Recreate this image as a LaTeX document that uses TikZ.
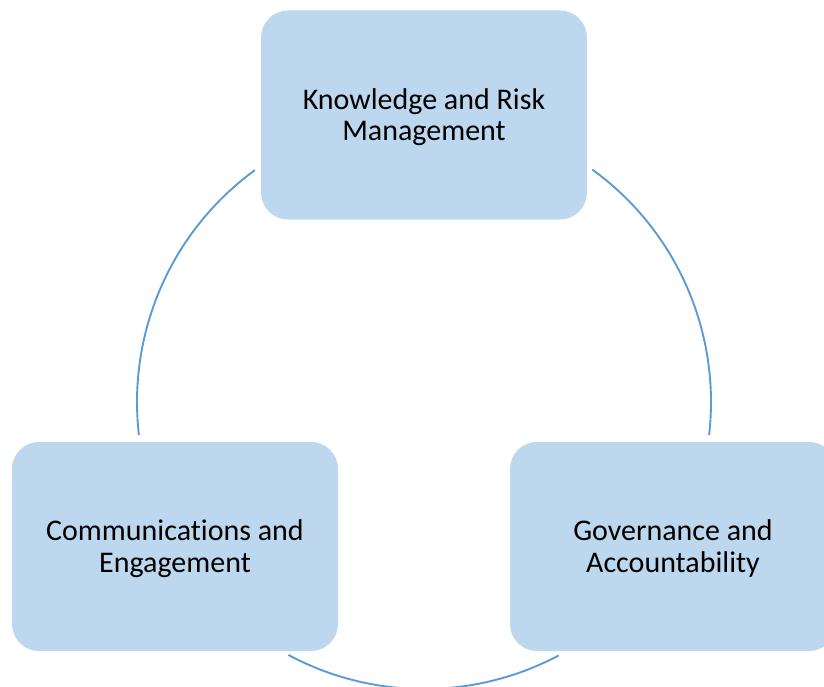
\documentclass[tikz,border=0pt]{standalone}
\usepackage{fontspec}
\setmainfont{Carlito}[Ligatures=NoCommon]
\definecolor{boxfill}{RGB}{189,215,238}
\definecolor{ringline}{RGB}{91,155,213}
\begin{document}
\begin{tikzpicture}[x=1pt,y=-1pt,
  cyclebox/.style={fill=boxfill,draw=none,rounded corners=27pt,minimum width=326pt,minimum height=209pt,inner sep=0pt},
  boxtext/.style={align=center,inner sep=0pt,font=\fontsize{30}{31.6}\selectfont,text=black},
  ring/.style={draw=ringline,line width=1.9pt}]
\useasboundingbox (0,0) rectangle (824,687);
\clip (0,0) rectangle (824,687);
\coordinate (c) at (424,402);
% ring arcs
\draw[ring] ([shift={(-126.1:287)}]c) arc[start angle=-126.1,end angle=-186.6,radius=287];
\draw[ring] ([shift={(-241.8:287)}]c) arc[start angle=-241.8,end angle=-298.0,radius=287];
\draw[ring] ([shift={(6.6:287)}]c) arc[start angle=6.6,end angle=-54.1,radius=287];
% boxes
\node[cyclebox] (krm) at (424,115) {};
\node[cyclebox] (ce) at (175,546.5) {};
\node[cyclebox] (ga) at (673,546.5) {};
\node[boxtext] (krmt) at ([yshift=-2pt]krm.center) {Knowledge and Risk\\Management};
\node[boxtext] (cet) at ([yshift=-2pt]ce.center) {Communications and\\Engagement};
\node[boxtext] (gat) at ([yshift=-2pt]ga.center) {Governance and\\Accountability};
\end{tikzpicture}
\end{document}
